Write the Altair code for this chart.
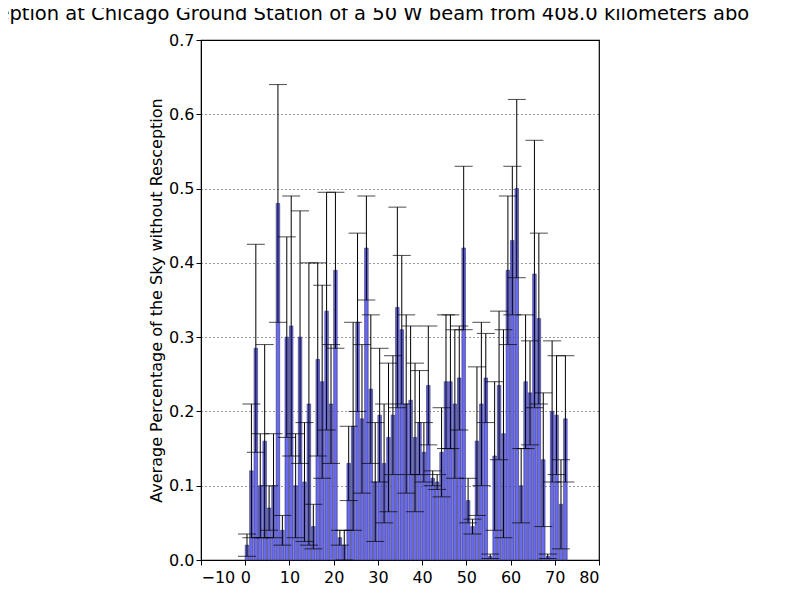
import altair as alt
import pandas as pd

heights = [0.02,0.12,0.285,0.10,0.16,0.07,0.10,0.48,0.04,0.30,0.315,0.10,0.30,0.105,0.21,0.045,0.27,0.24,0.335,0.21,
           0.39,0.03,0.02,0.13,0.18,0.32,0.19,0.42,0.23,0.105,0.195,0.13,0.165,0.195,0.34,0.31,0.21,0.215,0.165,0.185,
           0.145,0.235,0.11,0.105,0.145,0.24,0.24,0.21,0.245,0.42,0.08,0.045,0.16,0.21,0.245,0.005,0.14,0.235,0.17,0.39,
           0.43,0.50,0.10,0.24,0.225,0.385,0.325,0.135,0.005,0.20,0.195,0.075,0.19]
errors = [0.015,0.09,0.14,0.07,0.13,0.03,0.07,0.16,0.02,0.135,0.175,0.07,0.17,0.08,0.19,0.03,0.13,0.13,0.16,0.08,
          0.105,0.01,0.02,0.05,0.14,0.12,0.10,0.07,0.10,0.08,0.09,0.08,0.10,0.08,0.135,0.10,0.12,0.10,0.10,0.07,
          0.04,0.08,0.01,0.01,0.06,0.09,0.09,0.10,0.07,0.11,0.03,0.01,0.10,0.11,0.06,0.003,0.10,0.10,0.14,0.10,
          0.10,0.12,0.05,0.09,0.07,0.18,0.115,0.09,0.003,0.095,0.08,0.06,0.085]

df = pd.DataFrame({"x": list(range(len(heights))), "h": heights, "e": errors})
df["x2"] = df["x"] + 0.8
df["xc"] = df["x"] + 0.4
df["lo"] = df["h"] - df["e"]
df["hi"] = df["h"] + df["e"]

xs = alt.Scale(domain=[-10, 80], nice=False)
ys = alt.Scale(domain=[0, 0.7], nice=False)
xax = alt.Axis(values=list(range(-10, 81, 10)), grid=False, title=None, tickSize=5, labelPadding=4)
yax = alt.Axis(values=[i / 10 for i in range(8)], format=".1f", grid=True, gridDash=[1, 3], gridColor="black",
               gridOpacity=0.8, title="Average Percentage of the Sky without Resception", tickSize=5, titleFontSize=16,
               titleFontWeight="normal")

base = alt.Chart(df)
bars = base.mark_bar(fill="#6a6af0", stroke="#333366", strokeWidth=0.6).encode(
    x=alt.X("x:Q", scale=xs, axis=xax), x2="x2:Q",
    y=alt.Y("h:Q", scale=ys, axis=yax), y2=alt.Y2(datum=0))
rules = base.mark_rule(color="black", strokeWidth=1).encode(x="xc:Q", y="lo:Q", y2="hi:Q")
caps_hi = base.mark_tick(color="black", orient="horizontal", size=18, thickness=1).encode(x="xc:Q", y="hi:Q")
caps_lo = base.mark_tick(color="black", orient="horizontal", size=18, thickness=1).encode(x="xc:Q", y="lo:Q")

chart = alt.layer(bars, rules, caps_hi, caps_lo).properties(
    width=398, height=520,
    title=alt.TitleParams("Reception at Chicago Ground Station of a 50 W beam from 408.0 kilometers above",
                          anchor="start", frame="group", dx=-239, fontSize=19.5, fontWeight="normal", offset=8,
                          font="DejaVu Sans"),
    autosize=alt.AutoSizeParams(type="none"),
    padding={"left": 193, "top": 32, "right": 150, "bottom": 30},
).configure_view(stroke="black", strokeWidth=1.2).configure_axis(
    labelFontSize=16, labelFont="DejaVu Sans", titleFont="DejaVu Sans", labelColor="black", titleColor="black",
    domainColor="black", tickColor="black")

chart.save("out.html", embed_options={"renderer": "svg", "actions": False})
